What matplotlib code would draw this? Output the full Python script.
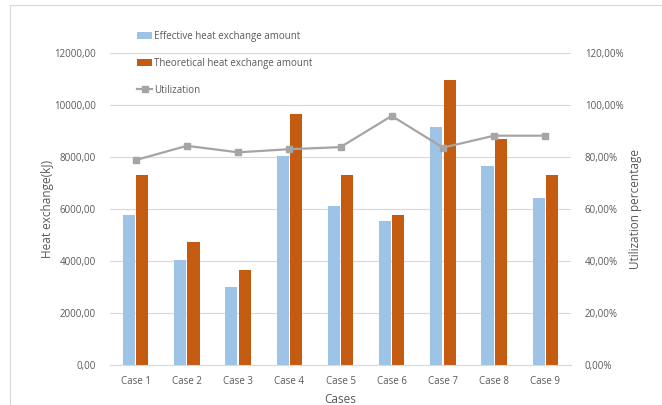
import matplotlib
matplotlib.use("Agg")
import matplotlib.pyplot as plt
import numpy as np
from matplotlib.patches import Rectangle
from matplotlib.ticker import FuncFormatter

categories = ["Case 1", "Case 2", "Case 3", "Case 4", "Case 5", "Case 6", "Case 7", "Case 8", "Case 9"]
effective = [5770, 4030, 3000, 8030, 6100, 5550, 9170, 7650, 6430]
theoretical = [7300, 4750, 3650, 9650, 7300, 5780, 10950, 8680, 7300]
utilization = [78.8, 84.3, 81.8, 83.0, 83.8, 95.8, 83.6, 88.2, 88.2]

plt.rcParams['font.family'] = ['Open Sans', 'DejaVu Sans']
txt = '#595959'
W, H = 662, 405
fig = plt.figure(figsize=(W/100, H/100), dpi=100)
ax = fig.add_axes([110/W, 1-365/H, 461/W, 312/H])

x = np.arange(len(categories))
bw = 0.235
ax.bar(x - 0.13, effective, bw, color='#9DC3E6', zorder=2, label='Effective heat exchange amount')
ax.bar(x + 0.13, theoretical, bw, color='#C55A11', zorder=2, label='Theoretical heat exchange amount')
ax.set_xlim(-0.5, len(categories) - 0.5)
ax.set_ylim(0, 12000)
ax.set_yticks(np.arange(0, 12001, 2000))
ax.yaxis.set_major_formatter(FuncFormatter(lambda v, p: f"{v:.2f}".replace('.', ',')))
ax.set_xticks(x)
ax.set_xticklabels(categories)
ax.grid(axis='y', color='#D9D9D9', linewidth=0.8, zorder=0)
for s in ['top', 'right', 'left']:
    ax.spines[s].set_visible(False)
ax.spines['bottom'].set_color('#D9D9D9')
ax.tick_params(axis='both', length=0, colors=txt, labelsize=7)
ax.tick_params(axis='y', pad=10)
ax.tick_params(axis='x', pad=8)
ax.set_xlabel('Cases', color=txt, fontsize=8.5, labelpad=4)
ax.set_ylabel('Heat exchange(kJ)', color=txt, fontsize=8.5, labelpad=0)

ax2 = ax.twinx()
ax2.plot(x, utilization, color='#A5A5A5', marker='s', markersize=5, linewidth=1.6, zorder=3, label='Utilization')
ax2.set_ylim(0, 120)
ax2.set_yticks(np.arange(0, 121, 20))
ax2.yaxis.set_major_formatter(FuncFormatter(lambda v, p: f"{v:.2f}".replace('.', ',') + '%'))
for s in ['top', 'right', 'left', 'bottom']:
    ax2.spines[s].set_visible(False)
ax2.tick_params(axis='y', length=0, colors=txt, labelsize=7, pad=10)
ax2.set_ylabel('Utilization percentage', color=txt, fontsize=8.5, labelpad=4)

h1, l1 = ax.get_legend_handles_labels()
h2, l2 = ax2.get_legend_handles_labels()
leg = fig.legend(h1 + h2, l1 + l2, loc='upper left', bbox_to_anchor=(128/W, 1-22/H),
                 frameon=False, fontsize=7, labelspacing=1.65, handlelength=1.6,
                 handletextpad=0.2, labelcolor=txt)

fig.patches.append(Rectangle((10/W, -0.1), 1.2, 1-5/H + 0.1, transform=fig.transFigure,
                             fill=False, edgecolor='#D9D9D9', linewidth=0.8))
fig.savefig('out.png', dpi=100)
